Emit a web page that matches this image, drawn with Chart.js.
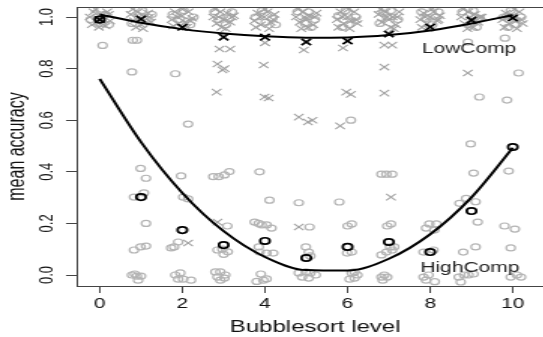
<!DOCTYPE html>
<html>
<head>
<meta charset="utf-8">
<title>Bubblesort level vs mean accuracy</title>
<script src="https://cdn.jsdelivr.net/npm/chart.js"></script>
<style>
  body { margin: 0; overflow: hidden; background: #fff; }
  /* the original plot is stretched sideways and cut on the right, so draw it narrow and widen it */
  #chart { width: 562.5px !important; height: 337px !important; }
</style>
</head>
<body>
<canvas id="chart" width="375" height="337"></canvas>
<script>

const levels = [0, 1, 2, 3, 4, 5, 6, 7, 8, 9, 10];
const xTicks = [0, 2, 4, 6, 8, 10];
const yTicks = [0, 0.2, 0.4, 0.6, 0.8, 1.0];

// group means (black marks)
const lowMeans  = [0.99, 0.992, 0.96, 0.922, 0.922, 0.903, 0.907, 0.934, 0.961, 0.988, 0.996];
const highMeans = [0.99, 0.302, 0.174, 0.116, 0.132, 0.066, 0.109, 0.128, 0.089, 0.248, 0.496];

// fitted curves, read at each level
const lowFit  = [1.01, 0.978, 0.953, 0.936, 0.925, 0.92, 0.921, 0.93, 0.948, 0.975, 1.008];
const highFit = [0.760, 0.515, 0.318, 0.170, 0.070, 0.019, 0.017, 0.063, 0.158, 0.301, 0.493];

// individual LowComp scores (grey crosses), jittered level, accuracy
const lowPts = [
  [-0.24,1.0],[-0.15,1.02],[-0.07,0.98],[0.02,1.01],[0.1,0.99],[0.18,1.02],[0.25,0.985],[-0.19,0.97],
  [-0.1,1.03],[0.14,0.965],[-0.02,0.96],[0.22,1.01],
  [0.75,1.01],[0.83,0.985],[0.92,1.02],[1.0,0.97],[1.08,1.0],[1.17,1.015],[1.24,0.98],[0.88,0.96],
  [0.8,1.03],[1.05,0.955],[1.2,1.0],[0.95,1.0],
  [1.74,0.99],[1.82,1.02],[1.9,0.975],[1.99,1.005],[2.07,0.98],[2.15,1.02],[2.24,0.995],[2.11,0.96],
  [1.78,0.965],[2.0,1.03],[2.2,0.985],[1.88,1.0],
  [2.75,1.0],[2.83,0.975],[2.92,1.02],[3.0,0.99],[3.08,1.015],[3.16,0.98],[3.25,1.005],[2.95,0.96],
  [2.8,1.03],[3.05,0.955],[3.2,1.0],[2.88,1.0],
  [3.74,0.985],[3.82,1.015],[3.9,0.97],[3.98,1.0],[4.06,1.02],[4.14,0.98],[4.23,1.01],[4.1,0.955],
  [3.78,0.96],[4.0,1.03],[4.2,0.99],[3.88,1.0],
  [4.75,1.0],[4.84,0.98],[4.92,1.02],[5.0,0.99],[5.08,1.005],[5.17,0.97],[5.25,1.015],[4.88,0.955],
  [4.8,1.03],[5.04,0.96],[5.2,1.0],[4.96,1.0],
  [5.74,0.99],[5.83,1.02],[5.91,0.975],[6.0,1.0],[6.08,0.985],[6.16,1.02],[6.24,0.975],[6.05,0.955],
  [5.78,0.96],[6.02,1.03],[6.2,0.99],[5.88,1.0],
  [6.75,1.01],[6.83,0.98],[6.92,1.02],[7.0,0.99],[7.09,1.0],[7.17,0.97],[7.25,1.02],[7.12,0.955],
  [6.8,1.03],[7.04,0.96],[7.2,1.0],[6.96,1.0],
  [7.76,0.99],[7.84,1.015],[7.92,0.975],[8.0,1.0],[8.08,1.02],[8.17,0.985],[8.24,1.005],[7.95,0.955],
  [7.8,0.96],[8.04,1.03],[8.2,0.99],[7.88,1.0],
  [8.75,1.0],[8.83,0.975],[8.92,1.02],[9.0,0.99],[9.08,1.01],[9.16,0.98],[9.25,1.0],[8.9,0.955],
  [8.8,1.03],[9.04,0.96],[9.2,1.0],[8.96,1.0],
  [9.75,0.99],[9.83,1.015],[9.91,0.975],[10.0,1.005],[10.08,0.985],[10.16,1.02],[10.24,0.975],[10.1,0.955],
  [9.8,0.96],[10.04,1.03],[10.2,0.99],[9.88,1.0],
  [2.14,0.124],[2.9,0.876],[3.16,0.876],[2.85,0.818],[2.97,0.795],[3.02,0.8],[2.83,0.709],[2.85,0.205],
  [4.0,0.9],[3.97,0.814],[3.99,0.69],[4.09,0.686],[4.94,0.872],[4.82,0.612],[5.04,0.593],[5.15,0.6],
  [4.82,0.186],[5.89,0.88],[5.97,0.709],[6.08,0.7],[5.82,0.578],[6.89,0.891],[7.08,0.891],[6.89,0.806],
  [6.89,0.705],[7.05,0.302],[8.91,0.783]
];

// individual HighComp scores (grey circles)
const highPts = [
  [-0.22,0.99],[-0.05,1.0],[0.12,1.01],[0.22,0.97],[0.04,0.975],[0.07,0.89],
  [0.78,0.975],[0.95,1.0],[1.12,0.99],[1.26,1.01],[1.03,1.025],
  [0.8,0.91],[0.9,0.91],[0.78,0.787],[0.99,0.413],[1.12,0.375],[0.83,0.302],[1.07,0.318],[1.12,0.2],
  [0.83,0.097],[0.99,0.109],[1.12,0.112],[0.78,0.0],[0.9,-0.004],[1.0,-0.004],[0.93,-0.02],[0.85,0.004],
  [1.77,1.01],[1.94,0.99],[2.03,1.025],[2.19,0.97],[2.27,1.0],
  [1.83,0.78],[2.14,0.585],[1.97,0.384],[2.02,0.302],[2.14,0.295],[1.73,0.105],[1.8,0.109],[1.9,0.128],
  [1.83,0.0],[1.95,0.008],[2.02,-0.016],[2.21,-0.02],[1.9,-0.016],
  [2.78,1.02],[2.88,0.99],[3.05,0.97],[3.2,1.02],[3.12,0.995],
  [2.75,0.381],[2.88,0.381],[3.02,0.388],[3.14,0.401],[3.09,0.19],[2.85,0.097],[2.97,0.1],[3.1,0.09],
  [3.0,0.08],[2.8,0.012],[2.92,0.012],[3.04,0.0],[2.85,-0.008],[3.02,-0.012],[2.92,-0.02],
  [3.77,1.0],[3.93,1.025],[4.02,0.98],[4.18,0.995],[4.26,0.97],
  [3.87,0.4],[4.11,0.29],[3.75,0.205],[3.85,0.2],[3.92,0.194],[4.04,0.194],[4.16,0.182],[3.85,0.109],
  [3.87,0.089],[4.04,0.085],[4.2,0.085],[3.8,-0.025],[3.96,-0.02],[4.04,-0.015],[3.9,0.004],
  [4.79,1.02],[4.97,0.975],[5.05,1.02],[5.21,0.99],[5.12,0.96],
  [4.82,0.28],[5.08,0.186],[4.99,0.109],[5.06,0.089],[5.1,0.074],[4.82,0.008],[4.99,0.012],[5.1,0.008],
  [5.23,0.0],[5.06,-0.012],[4.9,-0.008],
  [5.78,1.005],[5.95,1.025],[6.03,0.97],[6.2,1.0],[5.87,0.96],
  [6.08,0.6],[5.8,0.283],[6.0,0.19],[6.1,0.198],[6.1,0.089],[5.99,0.085],[6.1,0.008],[6.17,0.012],
  [6.24,0.0],[6.17,-0.012],[6.05,-0.016],
  [6.78,0.975],[6.96,1.0],[7.05,1.025],[7.22,0.99],[6.87,1.015],
  [6.82,0.391],[6.94,0.391],[7.08,0.391],[6.96,0.19],[7.05,0.198],[6.82,0.078],[6.94,0.089],[7.08,0.097],
  [7.13,0.109],[7.03,0.109],[6.82,-0.008],[6.89,0.0],[6.96,-0.008],[6.85,-0.02],
  [7.79,1.02],[7.9,0.995],[8.05,0.97],[8.2,1.02],[8.12,1.0],
  [7.9,0.182],[7.98,0.198],[8.15,0.198],[8.1,0.174],[7.84,0.089],[8.08,0.097],[7.84,-0.008],[7.96,0.0],
  [7.9,-0.02],[8.11,-0.026],
  [8.78,1.02],[8.96,0.97],[9.04,1.025],[9.2,0.995],[9.12,0.96],
  [8.91,0.903],[9.19,0.69],[8.98,0.508],[9.05,0.395],[8.71,0.278],[8.87,0.297],[9.1,0.284],[9.15,0.205],
  [8.8,0.089],[9.1,0.109],[8.69,-0.008],[8.82,0.0],[8.93,0.0],[9.05,0.004],[8.74,-0.027],
  [9.78,1.0],[9.95,1.025],[10.04,0.97],[10.2,1.0],[9.88,0.96],
  [9.81,0.918],[10.14,0.783],[9.86,0.678],[9.9,0.403],[9.8,0.19],[10.05,0.178],[9.95,0.105],[9.95,-0.008],
  [10.1,0.0],[10.2,-0.008]
];

const FONT = "'Liberation Sans', Arial, sans-serif";
Chart.defaults.font.family = FONT;

const toXY = pts => pts.map(p => ({x: p[0], y: p[1]}));
const byLevel = vals => levels.map((l, i) => ({x: l, y: vals[i]}));

// top frame line, rotated y labels and the two group names
const framePlugin = {
  id: 'frame',
  afterDraw(chart) {
    const ctx = chart.ctx;
    const a = chart.chartArea;
    const xs = chart.scales.x, ys = chart.scales.y;
    ctx.save();
    ctx.strokeStyle = '#444';
    ctx.lineWidth = 1;
    ctx.beginPath();
    ctx.moveTo(a.left, a.top + 0.5);
    ctx.lineTo(a.right, a.top + 0.5);
    ctx.stroke();

    ctx.fillStyle = '#111';
    ctx.font = '13px ' + FONT;
    ctx.textAlign = 'center';
    ctx.textBaseline = 'middle';
    yTicks.forEach(v => {
      ctx.save();
      ctx.translate(31.5, ys.getPixelForValue(v));
      ctx.rotate(-Math.PI / 2);
      ctx.fillText(v.toFixed(1), 0, 0);
      ctx.restore();
    });

    ctx.fillStyle = '#222';
    ctx.font = '14px ' + FONT;
    ctx.fillText('LowComp', xs.getPixelForValue(8.94), ys.getPixelForValue(0.876));
    ctx.fillText('HighComp', xs.getPixelForValue(8.96), ys.getPixelForValue(0.025));
    ctx.restore();
  }
};

const data = {
  datasets: [{
    label: 'HighComp mean',
    data: byLevel(highMeans),
    pointStyle: 'circle',
    pointRadius: 3.2,
    borderWidth: 1.7,
    borderColor: '#000',
    backgroundColor: 'rgba(0,0,0,0)',
    order: 0
  }, {
    label: 'LowComp mean',
    data: byLevel(lowMeans),
    pointStyle: 'crossRot',
    pointRadius: 4.5,
    borderWidth: 1.7,
    borderColor: '#000',
    order: 0
  }, {
    label: 'LowComp fit',
    data: byLevel(lowFit),
    showLine: true,
    cubicInterpolationMode: 'monotone',
    pointRadius: 0,
    borderWidth: 2,
    borderColor: '#000',
    order: 1
  }, {
    label: 'HighComp fit',
    data: byLevel(highFit),
    showLine: true,
    cubicInterpolationMode: 'monotone',
    pointRadius: 0,
    borderWidth: 2,
    borderColor: '#000',
    order: 1
  }, {
    label: 'LowComp',
    data: toXY(lowPts),
    pointStyle: 'crossRot',
    pointRadius: 4.5,
    borderWidth: 1.1,
    borderColor: '#a2a2a2',
    order: 2
  }, {
    label: 'HighComp',
    data: toXY(highPts),
    pointStyle: 'circle',
    pointRadius: 3,
    borderWidth: 1.2,
    borderColor: '#b4b4b4',
    backgroundColor: 'rgba(0,0,0,0)',
    order: 2
  }]
};

const config = {
  type: 'scatter',
  data,
  options: {
    responsive: false,
    animation: false,
    devicePixelRatio: 1,
    layout: { padding: { top: 7, right: 0, left: 0, bottom: 0 } },
    plugins: { legend: { display: false }, tooltip: { enabled: false } },
    scales: {
      x: {
        min: -0.56,
        max: 10.99,
        afterBuildTicks: s => { s.ticks = xTicks.map(v => ({value: v})); },
        afterFit: s => { s.height = 51; },
        grid: { display: true, drawOnChartArea: false, drawTicks: true, tickLength: 7, tickColor: '#444' },
        border: { display: true, color: '#444', width: 1 },
        ticks: { color: '#111', font: { size: 14 }, padding: 3, maxRotation: 0, autoSkip: false },
        title: { display: true, text: 'Bubblesort level', color: '#111', font: { size: 16 }, padding: { top: 0, bottom: 0 } }
      },
      y: {
        min: -0.0426,
        max: 1.0388,
        afterBuildTicks: s => { s.ticks = yTicks.map(v => ({value: v})); },
        afterFit: s => { s.width = 51; },
        grid: { display: true, drawOnChartArea: false, drawTicks: true, tickLength: 7, tickColor: '#444' },
        border: { display: true, color: '#444', width: 1 },
        ticks: { display: false },
        title: { display: true, text: 'mean accuracy', color: '#111', font: { size: 16 }, padding: { top: 1.5, bottom: 0 } }
      }
    }
  },
  plugins: [framePlugin]
};

var myChart = new Chart(document.getElementById('chart'), config);
</script>
</body>
</html>
